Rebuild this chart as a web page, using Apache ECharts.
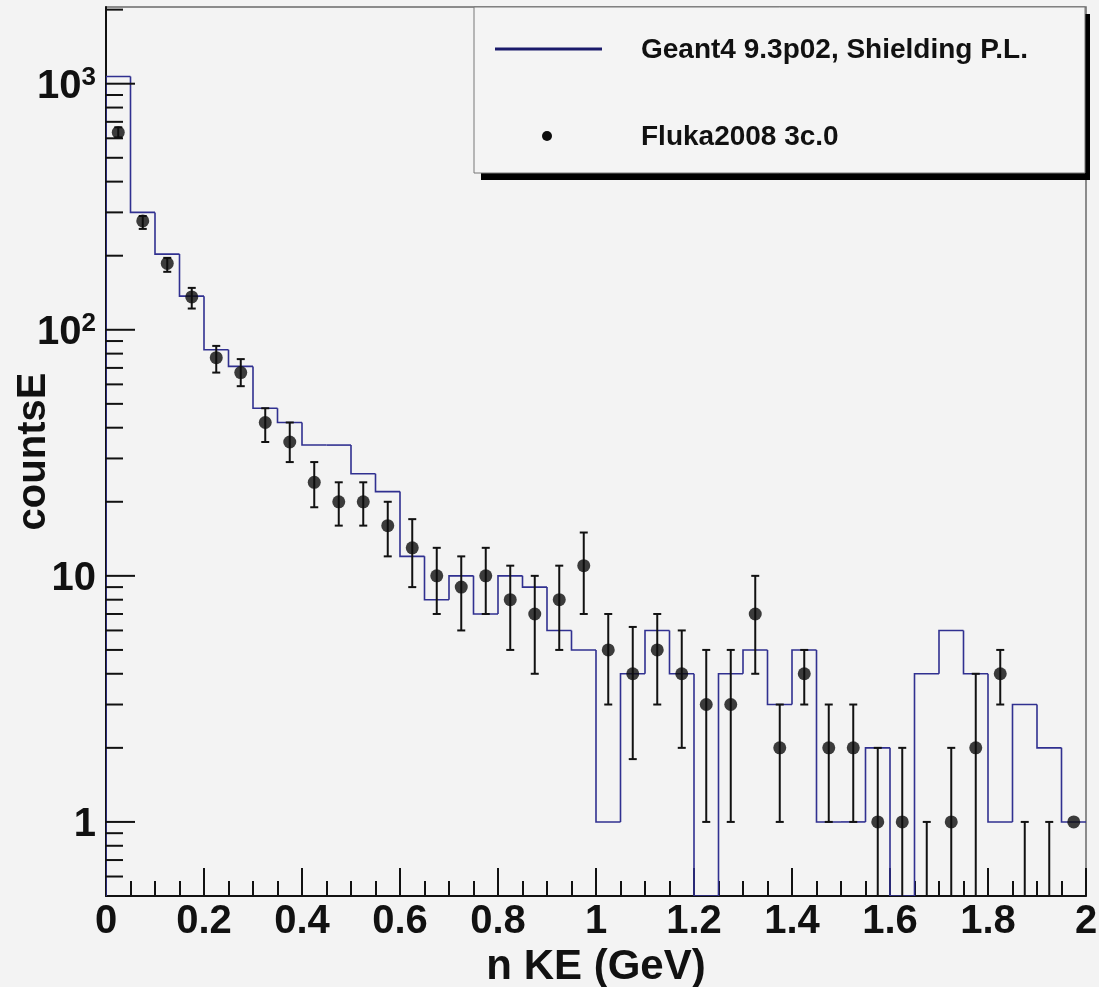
<!DOCTYPE html>
<html>
<head>
<meta charset="utf-8">
<script src="https://cdn.jsdelivr.net/npm/echarts@6/dist/echarts.min.js"></script>
<style>
html,body{margin:0;padding:0;background:#f3f3f3;}
#chart{width:1099px;height:987px;}
</style>
</head>
<body>
<div id="chart"></div>
<script>
// ---- data ----
const binCenters = [0.025,0.075,0.125,0.175,0.225,0.275,0.325,0.375,0.425,0.475,
  0.525,0.575,0.625,0.675,0.725,0.775,0.825,0.875,0.925,0.975,
  1.025,1.075,1.125,1.175,1.225,1.275,1.325,1.375,1.425,1.475,
  1.525,1.575,1.625,1.675,1.725,1.775,1.825,1.875,1.925,1.975];
const binHalfWidth = 0.025;
const geant4Counts = [1070,300,203,137,83,71,48,42,34,34,26,22,12,8,10,7,10,9,6,5,
  1,4,6,4,0,4,5,3,5,1,1,2,0,4,6,4,1,3,2,1];
const flukaCounts = [634,277,186,136,77,67,42,35,24,20,20,16,13,10,9,10,8,7,8,11,
  5,4,5,4,3,3,7,2,4,2,2,1,1,0,1,2,4,0,0,1];
const flukaErrLow = [605,257,172,122,67,59,35,29,19,16,16,12,9,7,6,7,5,4,5,7,
  3,1.8,3,2,1,1,4,1,3,1,1,0,0,0,0,0,3,0,0,1];
const flukaErrHigh = [665,290,196,148,86,76,48,42,29,24,24,20,17,13,12,13,11,10,11,15,
  7,6.2,7,6,5,5,10,3,5,3,3,2,2,1,2,4,5,1,1,1];
const yMajorTicks = [1,10,100,1000];
const yMajorLabels = ['1','10','{b|10}{s|2}','{b|10}{s|3}'];
const yMinorTicks = [0.6,0.7,0.8,0.9,2,3,4,5,6,7,8,9,20,30,40,50,60,70,80,90,
  200,300,400,500,600,700,800,900,2000];
const seriesNames = ['Geant4 9.3p02, Shielding P.L.','Fluka2008 3c.0'];
const xTitle = 'n KE (GeV)';
const yTitle = 'countsE';

// ---- build series data ----
const histData = binCenters.map((c,i)=>[c-binHalfWidth, c+binHalfWidth, geant4Counts[i], i>0?geant4Counts[i-1]:0]);
const errData = binCenters.map((c,i)=>[c, flukaErrLow[i], flukaErrHigh[i], flukaCounts[i]]);
const dotData = binCenters.map((c,i)=> flukaCounts[i]>0 ? [c, flukaCounts[i]] : [c,'-']);
const tickData = yMajorTicks.map((t,i)=>[0,t,1,i]).concat(yMinorTicks.map(t=>[0,t,0,-1]));

const FONT = '"Liberation Sans", Arial, Helvetica, sans-serif';
const INK = '#111';

const chart = echarts.init(document.getElementById('chart'), null, {renderer:'canvas'});

function yPix(api, params, v){
  const cs = params.coordSys;
  const bottom = cs.y + cs.height;
  if (!(v > 0)) return bottom;
  return Math.min(api.coord([0, v])[1], bottom);
}

const option = {
  backgroundColor: '#f3f3f3',
  animation: false,
  grid: {left:106, right:13, top:7, bottom:91, outerBoundsMode:'none', containLabel:false,
    show:true, borderColor:'#6a6a6a', borderWidth:1.5, backgroundColor:'#f3f3f3'},
  xAxis: {
    type:'value', min:0, max:2, interval:0.2,
    name: xTitle, nameLocation:'middle', nameGap:46,
    nameTextStyle:{fontFamily:FONT, fontWeight:'bold', fontSize:42, color:INK},
    axisLine:{show:true, onZero:false, lineStyle:{color:INK, width:2}},
    axisTick:{show:true, inside:true, length:28, lineStyle:{color:INK, width:2}},
    minorTick:{show:true, splitNumber:4, length:15, lineStyle:{color:INK, width:2}},
    axisLabel:{fontFamily:FONT, fontWeight:'bold', fontSize:40, color:INK, margin:6,
      formatter: v => String(Math.round(v*10)/10)},
    splitLine:{show:false}
  },
  yAxis: {
    type:'log', logBase:10, min:0.5, max:2050,
    name: yTitle, nameLocation:'middle', nameGap:52,
    nameTextStyle:{fontFamily:FONT, fontWeight:'bold', fontSize:40, color:INK},
    axisLine:{show:true, lineStyle:{color:INK, width:2}},
    axisTick:{show:false}, axisLabel:{show:false}, splitLine:{show:false}, minorTick:{show:false}
  },
  series: [
    {
      name: seriesNames[0], type:'custom', data: histData, clip:true,
      encode:{x:[0,1], y:[2]},
      renderItem: function(params, api){
        const x0 = api.coord([api.value(0), 1])[0];
        const x1 = api.coord([api.value(1), 1])[0];
        const y = yPix(api, params, api.value(2));
        const yp = yPix(api, params, api.value(3));
        return {type:'polyline', shape:{points:[[x0,yp],[x0,y],[x1,y]]},
          style:{stroke:'#303090', lineWidth:1.6, fill:null}};
      },
      z: 2
    },
    {
      name: seriesNames[1]+' errors', type:'custom', data: errData, clip:false,
      encode:{x:[0], y:[3]},
      renderItem: function(params, api){
        const cs = params.coordSys;
        const bottom = cs.y + cs.height;
        const x = api.coord([api.value(0), 1])[0];
        const lo = api.value(1), hi = api.value(2);
        if (hi === lo) return null;
        const yTop = yPix(api, params, hi);
        const yBot = yPix(api, params, lo);
        const ch = [{type:'line', shape:{x1:x,y1:yTop,x2:x,y2:yBot}, style:{stroke:INK, lineWidth:2}}];
        ch.push({type:'line', shape:{x1:x-4,y1:yTop,x2:x+4,y2:yTop}, style:{stroke:INK, lineWidth:2}});
        if (yBot < bottom - 0.5) ch.push({type:'line', shape:{x1:x-4,y1:yBot,x2:x+4,y2:yBot}, style:{stroke:INK, lineWidth:2}});
        return {type:'group', children: ch};
      },
      z: 3
    },
    {
      name: seriesNames[1], type:'scatter', data: dotData, symbol:'circle', symbolSize:13,
      itemStyle:{color:'#0d0d0d'}, z:4
    },
    {
      name:'y ticks', type:'custom', data: tickData, clip:false, silent:true,
      encode:{x:[0], y:[1]},
      renderItem: function(params, api){
        const cs = params.coordSys;
        const x0 = cs.x;
        const y = api.coord([0, api.value(1)])[1];
        const major = api.value(2) === 1;
        const ch = [{type:'line', shape:{x1:x0, y1:y, x2:x0+(major?29:17), y2:y}, style:{stroke:INK, lineWidth:2}}];
        if (major) {
          ch.push({type:'text', x:x0-10, y:y+3, style:{
            text: yMajorLabels[api.value(3)], align:'right', verticalAlign:'middle', fill:INK,
            font:'bold 40px '+FONT,
            rich:{
              b:{fontFamily:FONT, fontWeight:'bold', fontSize:40, lineHeight:44, fill:INK, color:INK},
              s:{fontFamily:FONT, fontWeight:'bold', fontSize:26, lineHeight:22, verticalAlign:'top', fill:INK, color:INK}
            }
          }});
        }
        return {type:'group', children: ch};
      },
      z: 5
    }
  ],
  graphic: [
    {type:'rect', shape:{x:481, y:14, width:609, height:166}, style:{fill:'#000'}, z:10},
    {type:'rect', shape:{x:474, y:7, width:611, height:166}, style:{fill:'#f4f4f4', stroke:'#777', lineWidth:1}, z:11},
    {type:'line', shape:{x1:495, y1:49, x2:602, y2:49}, style:{stroke:'#1a1a6a', lineWidth:3}, z:12},
    {type:'text', x:641, y:50, style:{text:seriesNames[0], font:'bold 28px '+FONT, fill:INK, verticalAlign:'middle'}, z:12},
    {type:'circle', shape:{cx:547, cy:136, r:5}, style:{fill:'#0d0d0d'}, z:12},
    {type:'text', x:641, y:137, style:{text:seriesNames[1], font:'bold 28px '+FONT, fill:INK, verticalAlign:'middle'}, z:12}
  ]
};
chart.setOption(option);
</script>
</body>
</html>
